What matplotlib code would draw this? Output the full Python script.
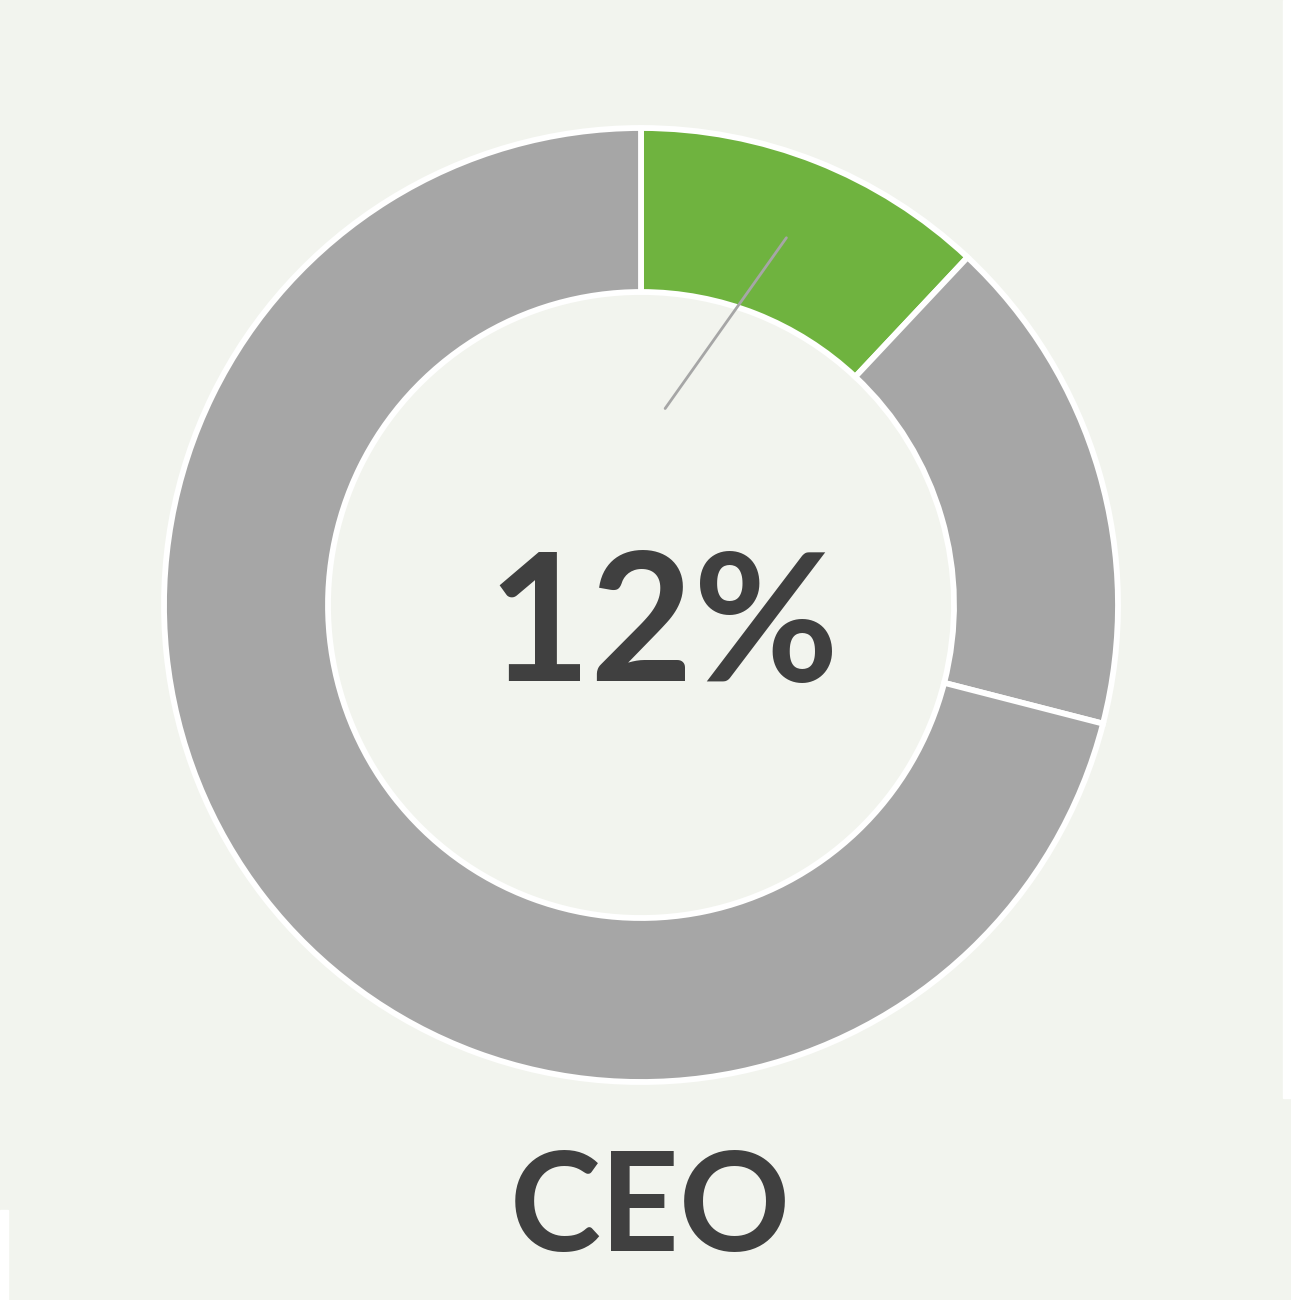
import numpy as np
import matplotlib.pyplot as plt
from matplotlib.patches import Rectangle

# share of the ring, clockwise from 12 o'clock
labels = ["CEO", "Other", "Rest"]
shares = [12, 17, 71]
colors = ["#6fb33f", "#a6a6a6", "#a6a6a6"]
center_text = "12%"
title = "CEO"

bg = "#f2f4ee"
W, H = 1291, 1300

fig = plt.figure(figsize=(W / 100, H / 100), dpi=100, facecolor=bg)
ax = fig.add_axes([0, 0, 1, 1])
ax.set_xlim(0, W)
ax.set_ylim(0, H)
ax.set_aspect("equal")
ax.axis("off")

# white strips at the picture edges
fig.patches.append(Rectangle((1283 / W, 202 / H), 8 / W, 1098 / H,
                             transform=fig.transFigure, color="white", zorder=0))
fig.patches.append(Rectangle((0, 0), 8 / W, 90 / H,
                             transform=fig.transFigure, color="white", zorder=0))

cx, cy = 641, H - 605
R = 477
ring = 164

wedges, _ = ax.pie(shares, colors=colors, startangle=90, counterclock=False,
                   center=(cx, cy), radius=R, frame=True,
                   wedgeprops=dict(width=ring, edgecolor="white", linewidth=4.2))
ax.set_xlim(0, W)
ax.set_ylim(0, H)
ax.axis("off")

# leader line left over from the data label of the green slice
w = wedges[0]
mid = np.deg2rad((w.theta1 + w.theta2) / 2)
r1 = R - ring / 2
x1, y1 = cx + r1 * np.cos(mid), cy + r1 * np.sin(mid)
ang2 = np.deg2rad(90 - 7)
r2 = 0.415 * R
x2, y2 = cx + r2 * np.cos(ang2), cy + r2 * np.sin(ang2)
ax.plot([x1, x2], [y1, y2], color="#a6a6a6", lw=2, solid_capstyle="round", zorder=5)

ax.text(663, H - 630, center_text, ha="center", va="center", fontsize=128,
        fontweight="bold", family="Lato", color="#404040")
ax.text(650, H - 1211, title, ha="center", va="center", fontsize=99,
        fontweight="bold", family="Lato", color="#404040")

fig.savefig("out.png", dpi=100, facecolor=bg)
